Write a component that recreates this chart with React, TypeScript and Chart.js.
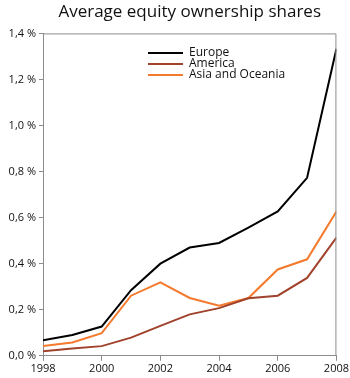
import React, { useEffect, useRef } from "react";
import { Chart, registerables } from "chart.js";

Chart.register(...registerables);

const years = [1998, 1999, 2000, 2001, 2002, 2003, 2004, 2005, 2006, 2007, 2008];
const europe = [0.068, 0.09, 0.127, 0.285, 0.4, 0.47, 0.49, 0.557, 0.627, 0.773, 1.333];
const america = [0.02, 0.032, 0.042, 0.079, 0.13, 0.18, 0.207, 0.25, 0.261, 0.338, 0.513];
const asiaOceania = [0.042, 0.058, 0.098, 0.261, 0.319, 0.251, 0.217, 0.251, 0.375, 0.419, 0.627];
const seriesNames = ["Europe", "America", "Asia and Oceania"];
const seriesColors = ["#000000", "#a1432c", "#f47a2e"];
const titleText = "Average equity ownership shares";
const xTicks = [1998, 2000, 2002, 2004, 2006, 2008];
const yMax = 1.4;
const yStep = 0.2;

const FONT = "'Open Sans', 'DejaVu Sans', sans-serif";

export default function App() {
  const ref = useRef<HTMLCanvasElement | null>(null);
  useEffect(() => {
    document.body.style.margin = "0";
    const ctx = ref.current!;
    const seriesData = [europe, america, asiaOceania];
    const frame = {
      id: "frame",
      afterDatasetsDraw(chart: any) {
        const { ctx, chartArea } = chart;
        ctx.save();
        ctx.strokeStyle = "#8c8c8c";
        ctx.lineWidth = 1;
        ctx.beginPath();
        ctx.moveTo(chartArea.left, chartArea.top + 0.5);
        ctx.lineTo(chartArea.right - 0.5, chartArea.top + 0.5);
        ctx.lineTo(chartArea.right - 0.5, chartArea.bottom);
        ctx.stroke();
        // legend
        const lx = 148;
        const ys = [53, 64, 75];
        chart.data.datasets.forEach((ds: any, i: number) => {
          ctx.strokeStyle = ds.borderColor;
          ctx.lineWidth = 2;
          ctx.beginPath();
          ctx.moveTo(lx, ys[i]);
          ctx.lineTo(lx + 35, ys[i]);
          ctx.stroke();
          ctx.fillStyle = "#111";
          ctx.font = `12px ${FONT}`;
          ctx.textBaseline = "middle";
          ctx.textAlign = "left";
          ctx.fillText(ds.label, lx + 41, ys[i]);
        });
        ctx.restore();
      },
    };
    const chart = new Chart(ctx, {
      type: "line",
      data: {
        datasets: seriesNames.map((name, i) => ({
          label: name,
          data: years.map((y, j) => ({ x: y, y: seriesData[i][j] })),
          borderColor: seriesColors[i],
          backgroundColor: seriesColors[i],
          borderWidth: 2,
          pointRadius: 0,
          tension: 0,
        })),
      },
      options: {
        animation: false,
        responsive: false,
        layout: { padding: { left: 0, right: 10, top: 0, bottom: 2 } },
        plugins: {
          legend: { display: false },
          tooltip: { enabled: false },
          title: {
            display: true,
            fullSize: false,
            text: titleText,
            color: "#111",
            font: { family: FONT, size: 17, weight: "normal" },
            padding: { top: 2, bottom: 11 },
          },
        },
        scales: {
          x: {
            type: "linear",
            min: years[0],
            max: years[years.length - 1],
            afterBuildTicks(scale: any) {
              scale.ticks = xTicks.map((v) => ({ value: v }));
            },
            grid: { drawOnChartArea: false, drawTicks: true, tickLength: 5, color: "#8c8c8c" },
            border: { color: "#8c8c8c" },
            ticks: {
              color: "#111",
              font: { family: FONT, size: 11 },
              padding: 1,
              maxRotation: 0,
              callback: (v: any) => String(v),
            },
          },
          y: {
            min: 0,
            max: yMax,
            afterFit(scale: any) {
              scale.width = 43;
            },
            ticks: {
              stepSize: yStep,
              color: "#111",
              font: { family: FONT, size: 11 },
              padding: 3,
              callback: (v: any) => Number(v).toFixed(1).replace(".", ",") + " %",
            },
            grid: { drawOnChartArea: false, drawTicks: true, tickLength: 4, color: "#8c8c8c" },
            border: { color: "#8c8c8c" },
          },
        },
      },
      plugins: [frame],
    } as any);
    return () => chart.destroy();
  }, []);
  return (
    <div style={{ position: "absolute", left: 0, top: 0, width: 350, height: 378 }}>
      <canvas ref={ref} width={350} height={378} style={{ width: 350, height: 378, display: "block" }} />
    </div>
  );
}
